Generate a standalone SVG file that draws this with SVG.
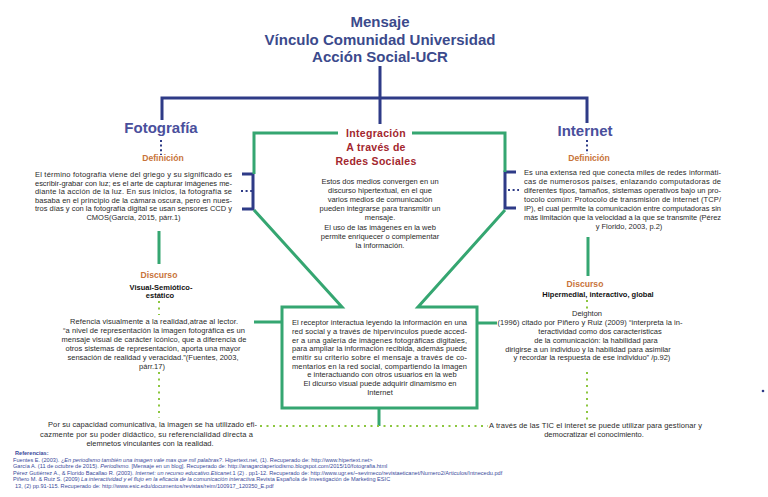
<svg xmlns="http://www.w3.org/2000/svg" width="768" height="497" viewBox="0 0 768 497">
<style>
text{font-family:"Liberation Sans",Arial,sans-serif}
.ttl{font-size:15px;font-weight:bold;fill:#3b4a8c;text-anchor:middle}
.hd{font-size:15px;font-weight:bold;fill:#4a4f9c;text-anchor:middle}
.def{font-size:8.6px;font-weight:bold;fill:#c8733a;text-anchor:middle}
.red{font-size:10.5px;font-weight:bold;fill:#a3272e;text-anchor:middle;letter-spacing:0.3px}
.b{font-size:7.5px;fill:#2a2a2a}
.c{text-anchor:middle}
.sub{font-size:7.5px;font-weight:bold;fill:#111;text-anchor:middle}
.ref{font-size:5.6px;fill:#3a4a9a}
.blue{fill:none;stroke:#2e3b87;stroke-width:3}
.bdot{fill:none;stroke:#2e3b87;stroke-width:2;stroke-dasharray:2 2.6}
.green{fill:none;stroke:#35a671;stroke-width:3}
.gdot{fill:none;stroke:#8cc63f;stroke-width:2;stroke-dasharray:2 4.5}
</style>
<rect width="768" height="497" fill="#ffffff"/>
<g id="connectors">
<path class="blue" d="M380 66V124M162 120V98H587V123"/>
<path class="bdot" d="M161 140V155M587 140V154"/>
<path class="blue" d="M242 174H253V209H242M516 172H505V208H516"/>
<path class="bdot" d="M241 191H252M508 190H519"/>
<path class="green" d="M338 133H254V174M254 210L342 307H282V408H477V307H418L505 210M505 172V133H412"/>
<path class="green" d="M254 322H282M477 323H497M379 408V426M159 231V264M588 237V276"/>
<path class="gdot" d="M159 301V315M159 372V418M587 300V310M587 372V424M260 426H488"/>
<circle cx="763" cy="391" r="1.3" fill="#2e3b87"/>
</g>
<g id="title">
<text class="ttl" x="380" y="27">Mensaje</text>
<text class="ttl" x="380" y="44.5">Vínculo Comunidad Universidad</text>
<text class="ttl" x="380" y="62">Acción Social-UCR</text>
</g>
<g id="fotografia">
<text class="hd" x="161" y="133">Fotografía</text>
<text class="def" x="163" y="161">Definición</text>
<text class="b" x="35" y="177" textLength="197" lengthAdjust="spacing">El término fotografía viene del griego y su significado es</text>
<text class="b" x="35" y="185.5" textLength="197" lengthAdjust="spacing">escribir-grabar con luz; es el arte de capturar imágenes me-</text>
<text class="b" x="35" y="194" textLength="197" lengthAdjust="spacing">diante la acción de la luz. En sus inicios, la fotografía se</text>
<text class="b" x="35" y="202.5" textLength="197" lengthAdjust="spacing">basaba en el principio de la cámara oscura, pero en nues-</text>
<text class="b" x="35" y="211" textLength="197" lengthAdjust="spacing">tros días y con la fotografía digital se usan sensores CCD y</text>
<text class="b c" x="133.5" y="219.5">CMOS(García, 2015, párr.1)</text>
</g>
<g id="discurso-foto">
<text class="def" x="159" y="278">Discurso</text>
<text class="sub" x="161" y="290">Visual-Semiótico-</text>
<text class="sub" x="160" y="298">estático</text>
<text class="b c" x="154" y="324" textLength="168" lengthAdjust="spacing">Refencia visualmente a la realidad,atrae al lector.</text>
<text class="b c" x="154" y="333" textLength="182" lengthAdjust="spacing">“a nivel de representación la imagen fotográfica es un</text>
<text class="b c" x="154" y="342" textLength="185" lengthAdjust="spacing">mensaje visual de carácter icónico, que a diferencia de</text>
<text class="b c" x="153" y="350.5" textLength="175" lengthAdjust="spacing">otros sistemas de representación, aporta una mayor</text>
<text class="b c" x="153" y="359.5" textLength="171" lengthAdjust="spacing">sensación de realidad y veracidad.”(Fuentes, 2003,</text>
<text class="b c" x="152" y="368.5">párr.17)</text>
</g>
<g id="integracion">
<text class="red" x="376" y="137">Integración</text>
<text class="red" x="376" y="151">A través de</text>
<text class="red" x="376" y="165">Redes Sociales</text>
<text class="b c" x="380" y="184">Estos dos medios convergen en un</text>
<text class="b c" x="380" y="193">discurso hipertextual, en el que</text>
<text class="b c" x="380" y="202">varios medios de comunicación</text>
<text class="b c" x="380" y="211">pueden integrarse para transmitir un</text>
<text class="b c" x="380" y="220">mensaje.</text>
<text class="b c" x="380" y="229.5">El uso de las imágenes en la web</text>
<text class="b c" x="380" y="239">permite enriquecer o complementar</text>
<text class="b c" x="380" y="248">la información.</text>
</g>
<g id="receptor">
<text class="b" x="292" y="325" textLength="175" lengthAdjust="spacing">El receptor interactua leyendo la información en una</text>
<text class="b" x="292" y="334" textLength="175" lengthAdjust="spacing">red social y a través de hipervínculos puede acced-</text>
<text class="b" x="292" y="342.5" textLength="175" lengthAdjust="spacing">er a una galería de imágenes  fotográficas digitales,</text>
<text class="b" x="292" y="351" textLength="175" lengthAdjust="spacing">para ampliar la información recibida, además puede</text>
<text class="b" x="292" y="360" textLength="175" lengthAdjust="spacing">emitir su criterio sobre el mensaje a través de co-</text>
<text class="b" x="292" y="368.5" textLength="175" lengthAdjust="spacing">mentarios en la red social, compartiendo la imagen</text>
<text class="b c" x="382" y="377">e interactuando con otros usuarios en la web</text>
<text class="b c" x="380" y="386">El dicurso visual puede adquirir dinamismo en</text>
<text class="b c" x="380" y="395">Internet</text>
</g>
<g id="internet">
<text class="hd" x="585" y="136">Internet</text>
<text class="def" x="589" y="161">Definición</text>
<text class="b" x="524" y="175" textLength="197" lengthAdjust="spacing">Es una extensa red que conecta miles de redes informáti-</text>
<text class="b" x="524" y="184" textLength="197" lengthAdjust="spacing">cas de numerosos países, enlazando computadoras de</text>
<text class="b" x="524" y="193" textLength="197" lengthAdjust="spacing">diferentes tipos, tamaños, sistemas operativos bajo un pro-</text>
<text class="b" x="524" y="202" textLength="197" lengthAdjust="spacing">tocolo común: Protocolo de transmisión de internet (TCP/</text>
<text class="b" x="524" y="211" textLength="197" lengthAdjust="spacing">IP), el cual permite la comunicación entre computadoras sin</text>
<text class="b" x="524" y="220" textLength="197" lengthAdjust="spacing">más limitación que la velocidad a la que se transmite (Pérez</text>
<text class="b c" x="629" y="229">y Florido, 2003, p.2)</text>
</g>
<g id="discurso-internet">
<text class="def" x="585" y="287">Discurso</text>
<text class="sub" x="598" y="297">Hipermedial, interactivo, global</text>
<text class="b c" x="587" y="316">Deighton</text>
<text class="b c" x="590" y="325" textLength="185" lengthAdjust="spacing">(1996) citado por Piñero y Ruiz (2009) “interpreta la in-</text>
<text class="b c" x="600" y="334">teractividad como dos características</text>
<text class="b c" x="596" y="343">de la comunicación: la habilidad para</text>
<text class="b c" x="588" y="351.5">dirigirse a un individuo y la habilidad para asimilar</text>
<text class="b c" x="592" y="360">y recordar la respuesta de ese individuo” /p.92)</text>
</g>
<g id="conclusion-left">
<text class="b c" x="152.5" y="427" textLength="209" lengthAdjust="spacing">Por su capacidad comunicativa, la imagen se ha utilizado efi-</text>
<text class="b c" x="146.5" y="437" textLength="213" lengthAdjust="spacing">cazmente por su poder didáctico, su referencialidad directa a</text>
<text class="b c" x="150" y="446">elemnetos vinculantes con la realidad.</text>
</g>
<g id="conclusion-right">
<text class="b c" x="595.5" y="428" textLength="213" lengthAdjust="spacing">A través de las TIC el interet se puede utilizar para gestionar y</text>
<text class="b c" x="594" y="437">democratizar el conocimiento.</text>
</g>
<g id="referencias">
<text class="ref" x="15" y="455" font-weight="bold">Referencias:</text>
<text class="ref" x="13" y="461.5">Fuentes E. (2003). ¿<tspan font-style="italic">En periodismo también una imagen vale mas que mil palabras?</tspan>. Hipertext.net, (1). Recuperado de: http://www.hipertext.net&gt;</text>
<text class="ref" x="13" y="468">García A. (11 de octubre de 2015). <tspan font-style="italic">Periodismo.</tspan> [Mensaje en un blog]. Recuperado de: http://anagarciaperiodismo.blogspot.com/2015/10/fotografia.html</text>
<text class="ref" x="13" y="474.5">Pérez Gutiérrez A., &amp; Florido Bacallao R. (2003). <tspan font-style="italic">Internet: un recurso educativo.Eticanet.</tspan>1 (2) . pp1-12. Recuperado de: http://www.ugr.es/~sevimeco/revistaeticanet/Numero2/Articulos/Intnecedu.pdf</text>
<text class="ref" x="13" y="481">Piñero M. &amp; Ruiz S. (2009) <tspan font-style="italic">La interactividad y el flujo en la eficacia de la comunicación interactiva</tspan>.Revista Española de Investigación de Marketing ESIC</text>
<text class="ref" x="15" y="487.5">13, (2) pp.91-115. Recuperado de: http://www.esic.edu/documentos/revistas/reim/100917_120350_E.pdf</text>
</g>
</svg>
